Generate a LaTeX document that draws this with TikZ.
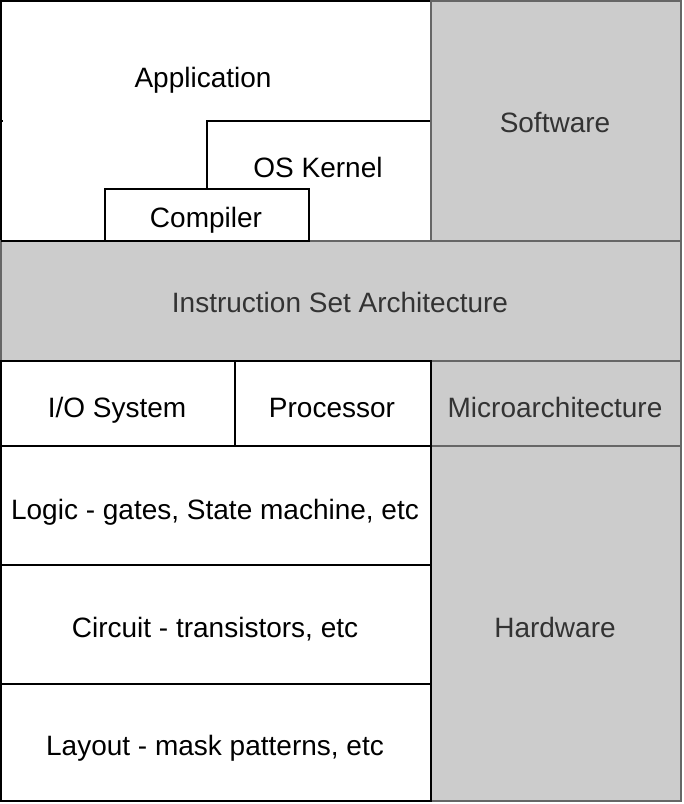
\documentclass[tikz,border=0pt]{standalone}
\usepackage{fontspec}
\setmainfont{Liberation Sans}
\definecolor{boxgray}{RGB}{204,204,204}
\definecolor{edgegray}{RGB}{102,102,102}
\definecolor{textgray}{RGB}{51,51,51}
\begin{document}
\begin{tikzpicture}[x=0.75pt,y=0.75pt,yscale=-1,xscale=1,
  whitebox/.style={draw=black,line width=1.5pt,fill=white},
  graybox/.style={draw=edgegray,line width=1.5pt,fill=boxgray},
  lbl/.style={inner sep=0.75pt,text height=15pt,text depth=0pt,font=\fontsize{21}{25}\selectfont,text=black},
  glbl/.style={lbl,text=textgray}]
\useasboundingbox (0,0) rectangle (684,804);

%Shape: Rectangle [Application]
\draw [whitebox] (1,1) rectangle (431,241) ;
\draw [black,line width=1.5pt] (1,121) -- (3,121) ;
%Shape: Rectangle [OS Kernel]
\draw [whitebox] (207,121) rectangle (431,241) ;
%Shape: Rectangle [Software]
\draw [graybox] (431,1) rectangle (681,241) ;
%Shape: Rectangle [ISA]
\draw [graybox] (1,241) rectangle (681,361) ;
%Shape: Rectangle [Compiler]
\draw [whitebox] (105,189) rectangle (309,241) ;
\draw [black,line width=1.5pt] (1,241) -- (105,241) ;

%Shape: Rectangle [Microarchitecture]
\draw [graybox] (431,361) rectangle (681,446) ;
%Shape: Rectangle [Hardware]
\draw [graybox] (431,446) rectangle (681,801) ;
%Shape: Rectangle [I/O System]
\draw [whitebox] (1,361) rectangle (235,446) ;
%Shape: Rectangle [Processor]
\draw [whitebox] (235,361) rectangle (431,446) ;
%Shape: Rectangle [Logic]
\draw [whitebox] (1,446) rectangle (431,565) ;
%Shape: Rectangle [Circuit]
\draw [whitebox] (1,565) rectangle (431,684) ;
%Shape: Rectangle [Layout]
\draw [whitebox] (1,684) rectangle (431,801) ;

% Text Node
\node (app) at (203,77) [lbl] {Application};
% Text Node
\node (kernel) at (318,167) [lbl] {OS Kernel};
% Text Node
\node (compiler) at (206,217) [lbl] {Compiler};
% Text Node
\node (software) at (555,122) [glbl] {Software};
% Text Node
\node (isa) at (340,302) [glbl] {Instruction Set Architecture};
% Text Node
\node (io) at (117,407) [lbl] {I/O System};
% Text Node
\node (proc) at (332,407) [lbl] {Processor};
% Text Node
\node (march) at (555,407) [glbl] {Microarchitecture};
% Text Node
\node (logic) at (215,509) [lbl] {Logic - gates, State machine, etc};
% Text Node
\node (circuit) at (215,627) [lbl] {Circuit - transistors, etc};
% Text Node
\node (layout) at (215,745) [lbl] {Layout - mask patterns, etc};
% Text Node
\node (hw) at (555,627) [glbl] {Hardware};

\end{tikzpicture}
\end{document}
